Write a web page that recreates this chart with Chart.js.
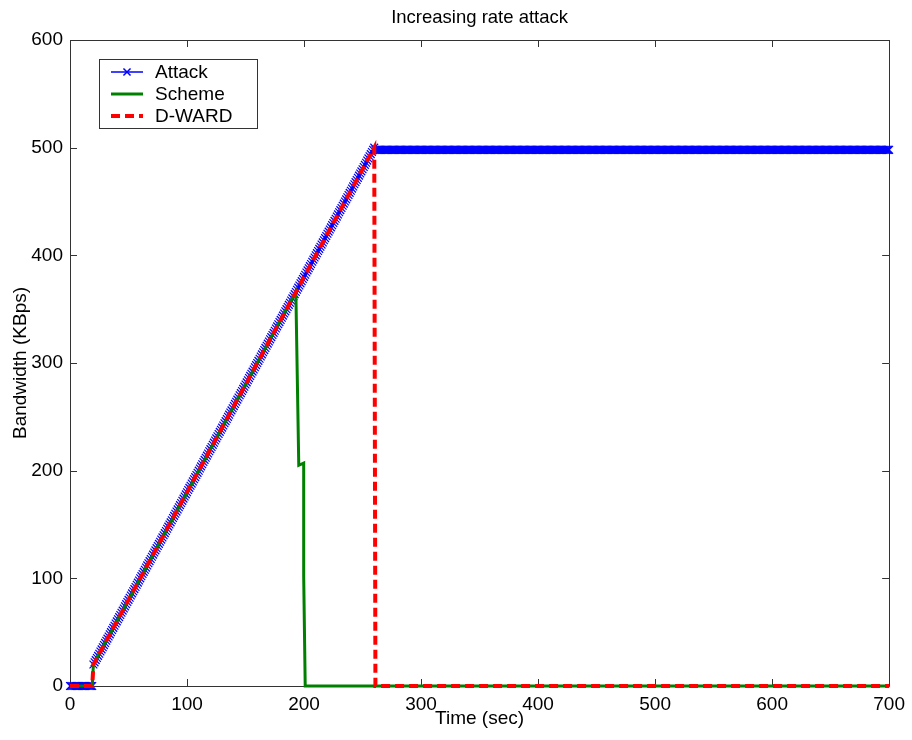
<!DOCTYPE html>
<html>
<head>
<meta charset="utf-8">
<title>Increasing rate attack</title>
<script src="https://cdn.jsdelivr.net/npm/chart.js@4.4.1/dist/chart.umd.min.js"></script>
<style>
  html, body { margin: 0; padding: 0; background: #ffffff; }
  #wrap { width: 912px; height: 740px; }
</style>
</head>
<body>
<div id="wrap"><canvas id="bw" width="912" height="740"></canvas></div>
<script>
// Sampling instants of the attack trace (one sample per second, 0..700 s)
const sampleSec = Array.from({ length: 701 }, (_, i) => i);

// Attack bandwidth (KBps) at each sampling instant
const attackKBps = [
  // 0..19 s: idle
  0,0,0,0,0,0,0,0,0,0,0,0,0,0,0,0,0,0,0,0,
  // 20..260 s: rate ramps up
  20,22,24,26,28,30,32,34,36,38,
  40,42,44,46,48,50,52,54,56,58,
  60,62,64,66,68,70,72,74,76,78,
  80,82,84,86,88,90,92,94,96,98,
  100,102,104,106,108,110,112,114,116,118,
  120,122,124,126,128,130,132,134,136,138,
  140,142,144,146,148,150,152,154,156,158,
  160,162,164,166,168,170,172,174,176,178,
  180,182,184,186,188,190,192,194,196,198,
  200,202,204,206,208,210,212,214,216,218,
  220,222,224,226,228,230,232,234,236,238,
  240,242,244,246,248,250,252,254,256,258,
  260,262,264,266,268,270,272,274,276,278,
  280,282,284,286,288,290,292,294,296,298,
  300,302,304,306,308,310,312,314,316,318,
  320,322,324,326,328,330,332,334,336,338,
  340,342,344,346,348,350,352,354,356,358,
  360,362,364,366,368,370,372,374,376,378,
  380,382,384,386,388,390,392,394,396,398,
  400,402,404,406,408,410,412,414,416,418,
  420,422,424,426,428,430,432,434,436,438,
  440,442,444,446,448,450,452,454,456,458,
  460,462,464,466,468,470,472,474,476,478,
  480,482,484,486,488,490,492,494,496,498,
  500,
  // 261..700 s: saturated
  498,498,498,498,498,498,498,498,498,498,498,498,498,498,498,498,498,498,498,498,
  498,498,498,498,498,498,498,498,498,498,498,498,498,498,498,498,498,498,498,498,
  498,498,498,498,498,498,498,498,498,498,498,498,498,498,498,498,498,498,498,498,
  498,498,498,498,498,498,498,498,498,498,498,498,498,498,498,498,498,498,498,498,
  498,498,498,498,498,498,498,498,498,498,498,498,498,498,498,498,498,498,498,498,
  498,498,498,498,498,498,498,498,498,498,498,498,498,498,498,498,498,498,498,498,
  498,498,498,498,498,498,498,498,498,498,498,498,498,498,498,498,498,498,498,498,
  498,498,498,498,498,498,498,498,498,498,498,498,498,498,498,498,498,498,498,498,
  498,498,498,498,498,498,498,498,498,498,498,498,498,498,498,498,498,498,498,498,
  498,498,498,498,498,498,498,498,498,498,498,498,498,498,498,498,498,498,498,498,
  498,498,498,498,498,498,498,498,498,498,498,498,498,498,498,498,498,498,498,498,
  498,498,498,498,498,498,498,498,498,498,498,498,498,498,498,498,498,498,498,498,
  498,498,498,498,498,498,498,498,498,498,498,498,498,498,498,498,498,498,498,498,
  498,498,498,498,498,498,498,498,498,498,498,498,498,498,498,498,498,498,498,498,
  498,498,498,498,498,498,498,498,498,498,498,498,498,498,498,498,498,498,498,498,
  498,498,498,498,498,498,498,498,498,498,498,498,498,498,498,498,498,498,498,498,
  498,498,498,498,498,498,498,498,498,498,498,498,498,498,498,498,498,498,498,498,
  498,498,498,498,498,498,498,498,498,498,498,498,498,498,498,498,498,498,498,498,
  498,498,498,498,498,498,498,498,498,498,498,498,498,498,498,498,498,498,498,498,
  498,498,498,498,498,498,498,498,498,498,498,498,498,498,498,498,498,498,498,498,
  498,498,498,498,498,498,498,498,498,498,498,498,498,498,498,498,498,498,498,498,
  498,498,498,498,498,498,498,498,498,498,498,498,498,498,498,498,498,498,498,498
];

// Scheme: passed bandwidth, breakpoints (time in s, KBps)
const schemeSec  = [0, 19, 20, 193, 195.5, 199.7, 199.7, 201, 700];
const schemeKBps = [0, 0, 20, 366, 205, 207, 102, 0, 0];

// D-WARD: passed bandwidth, breakpoints (time in s, KBps)
const dwardSec  = [0, 19, 20, 260, 261, 700];
const dwardKBps = [0, 0, 20, 500, 0, 0];

// Axis ticks
const xTicks = [0, 100, 200, 300, 400, 500, 600, 700];
const yTicks = [0, 100, 200, 300, 400, 500, 600];

const TITLE_TEXT = 'Increasing rate attack';
const FONT = '"Liberation Sans", Arial, Helvetica, sans-serif';
const AXIS_COLOR = '#333333';

const toPoints = (xs, ys) => xs.map((x, i) => ({ x: x, y: ys[i] }));

// Title centred over the plot, box around the plot, inward tick marks on all sides
const framePlugin = {
  id: 'frame',
  beforeDatasetsDraw(chart) {
    const { ctx, chartArea: a, scales: { x, y } } = chart;
    const len = 7;
    ctx.save();
    ctx.fillStyle = '#000000';
    ctx.font = '18.5px ' + FONT;
    ctx.textAlign = 'center';
    ctx.textBaseline = 'middle';
    ctx.fillText(TITLE_TEXT, (a.left + a.right) / 2, 18);

    ctx.strokeStyle = AXIS_COLOR;
    ctx.lineWidth = 1;
    ctx.beginPath();
    ctx.rect(Math.round(a.left) + 0.5, Math.round(a.top) + 0.5,
             Math.round(a.right - a.left), Math.round(a.bottom - a.top));
    xTicks.forEach(v => {
      const px = Math.round(x.getPixelForValue(v)) + 0.5;
      ctx.moveTo(px, a.bottom); ctx.lineTo(px, a.bottom - len);
      ctx.moveTo(px, a.top); ctx.lineTo(px, a.top + len);
    });
    yTicks.forEach(v => {
      const py = Math.round(y.getPixelForValue(v)) + 0.5;
      ctx.moveTo(a.left, py); ctx.lineTo(a.left + len, py);
      ctx.moveTo(a.right, py); ctx.lineTo(a.right - len, py);
    });
    ctx.stroke();
    ctx.restore();
  }
};

// Boxed legend in the upper-left corner of the plot
const legendBoxPlugin = {
  id: 'legendBox',
  afterDatasetsDraw(chart) {
    const { ctx, chartArea: a } = chart;
    const bx = a.left + 29, by = a.top + 19, bw = 158, bh = 69;
    const rowH = 22, firstRow = by + 13;
    const sx0 = bx + 12, sx1 = bx + 44, tx = bx + 56;
    ctx.save();
    ctx.fillStyle = '#ffffff';
    ctx.fillRect(bx, by, bw, bh);
    ctx.strokeStyle = AXIS_COLOR;
    ctx.lineWidth = 1;
    ctx.strokeRect(bx + 0.5, by + 0.5, bw, bh);
    chart.data.datasets.forEach((ds, i) => {
      const ry = firstRow + i * rowH;
      ctx.save();
      ctx.strokeStyle = ds.borderColor;
      ctx.lineWidth = ds.legendLineWidth || ds.borderWidth;
      ctx.setLineDash(ds.borderDash || []);
      ctx.beginPath();
      ctx.moveTo(sx0, ry); ctx.lineTo(sx1, ry);
      ctx.stroke();
      if (ds.pointRadius > 0) {
        ctx.strokeStyle = ds.pointBorderColor;
        ctx.fillStyle = ds.pointBackgroundColor;
        ctx.lineWidth = 1.5;
        ctx.setLineDash([]);
        Chart.helpers.drawPoint(ctx, {
          pointStyle: ds.pointStyle, radius: 5, borderWidth: 1.5, rotation: 0
        }, (sx0 + sx1) / 2, ry);
      }
      ctx.restore();
      ctx.fillStyle = '#000000';
      ctx.font = '19px ' + FONT;
      ctx.textBaseline = 'middle';
      ctx.textAlign = 'left';
      ctx.fillText(ds.label, tx, ry + 1);
    });
    ctx.restore();
  }
};

new Chart(document.getElementById('bw'), {
  type: 'line',
  data: {
    datasets: [
      {
        label: 'Attack',
        data: toPoints(sampleSec, attackKBps),
        borderColor: '#0000ff',
        borderWidth: 1,
        legendLineWidth: 1.5,
        pointStyle: 'crossRot',
        pointRadius: 5.5,
        pointBorderWidth: 1.2,
        pointBorderColor: '#0000ff',
        pointBackgroundColor: '#0000ff',
        pointHoverRadius: 5.5,
        order: 3,
        clip: false
      },
      {
        label: 'Scheme',
        data: toPoints(schemeSec, schemeKBps),
        borderColor: '#008000',
        borderWidth: 3,
        pointRadius: 0,
        order: 2,
        clip: false
      },
      {
        label: 'D-WARD',
        data: toPoints(dwardSec, dwardKBps),
        borderColor: '#ff0000',
        borderWidth: 4,
        borderDash: [9, 5],
        pointRadius: 0,
        order: 1,
        clip: false
      }
    ]
  },
  options: {
    responsive: false,
    animation: false,
    events: [],
    layout: { padding: { left: 0, right: 21, top: 40, bottom: 0 } },
    scales: {
      x: {
        type: 'linear',
        min: 0, max: 700,
        afterBuildTicks(s) { s.ticks = xTicks.map(v => ({ value: v })); },
        afterFit(s) { s.height = 54; },
        grid: { display: false, drawTicks: false },
        border: { display: false },
        ticks: { padding: 7, color: '#000', maxRotation: 0, font: { family: FONT, size: 19 } },
        title: {
          display: true, text: 'Time (sec)', color: '#000',
          font: { family: FONT, size: 19 }, padding: { top: 0, bottom: 10 }
        }
      },
      y: {
        type: 'linear',
        min: 0, max: 600,
        afterBuildTicks(s) { s.ticks = yTicks.map(v => ({ value: v })); },
        afterFit(s) { s.width = 70; },
        grid: { display: false, drawTicks: false },
        border: { display: false },
        ticks: { padding: 7, color: '#000', font: { family: FONT, size: 19 } },
        title: {
          display: true, text: 'Bandwidth (KBps)', color: '#000',
          font: { family: FONT, size: 19 }, padding: { top: 9, bottom: 0 }
        }
      }
    },
    plugins: {
      legend: { display: false },
      tooltip: { enabled: false },
      title: { display: false }
    }
  },
  plugins: [framePlugin, legendBoxPlugin]
});
</script>
</body>
</html>
